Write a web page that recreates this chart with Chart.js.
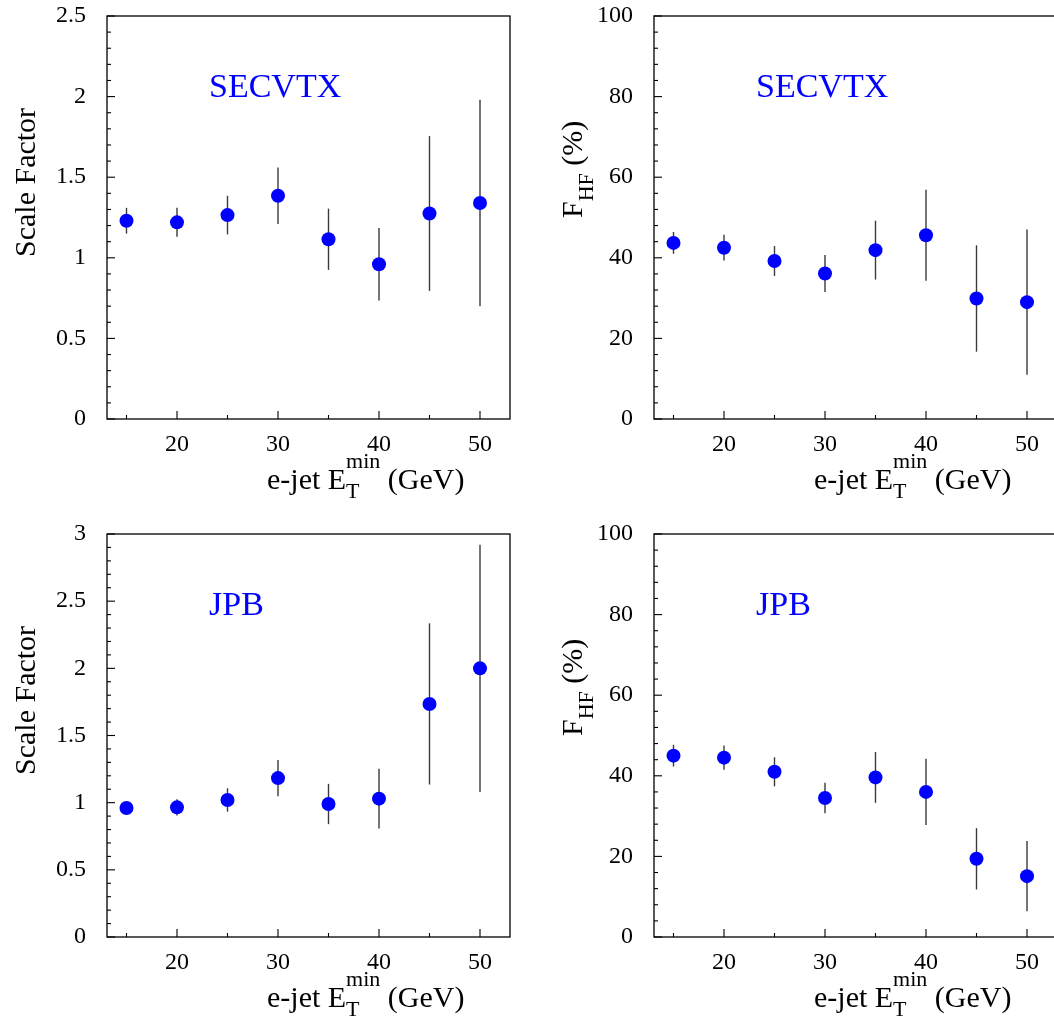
<!DOCTYPE html>
<html>
<head>
<meta charset="utf-8">
<script src="https://cdn.jsdelivr.net/npm/chart.js@4.4.1/dist/chart.umd.min.js"></script>
<style>
  body { margin: 0; width: 1054px; height: 1024px; overflow: hidden; background: #fff; position: relative; }
  canvas { position: absolute; }
</style>
</head>
<body>
<canvas id="sfSecvtx" width="540" height="512" style="left:0px;top:0px"></canvas>
<canvas id="fhfSecvtx" width="540" height="512" style="left:547px;top:0px"></canvas>
<canvas id="sfJpb" width="540" height="512" style="left:0px;top:518px"></canvas>
<canvas id="fhfJpb" width="540" height="512" style="left:547px;top:518px"></canvas>
<script>
// minimum e-jet Et cut (GeV)
const etCut = [15, 20, 25, 30, 35, 40, 45, 50];

// scale factors and heavy flavour fractions, SECVTX tagger
const sfSecvtx = [1.23, 1.22, 1.265, 1.385, 1.115, 0.96, 1.275, 1.34];
const sfSecvtxErr = [0.08, 0.09, 0.12, 0.175, 0.19, 0.225, 0.48, 0.64];
const fhfSecvtx = [43.7, 42.5, 39.2, 36.1, 41.9, 45.6, 29.9, 29.0];
const fhfSecvtxErr = [2.7, 3.2, 3.7, 4.6, 7.3, 11.3, 13.2, 18.0];

// same for JPB tagger
const sfJpb = [0.96, 0.965, 1.02, 1.183, 0.99, 1.03, 1.735, 2.0];
const sfJpbErr = [0.04, 0.06, 0.087, 0.135, 0.15, 0.223, 0.6, 0.92];
const fhfJpb = [45.0, 44.5, 41.0, 34.5, 39.6, 36.0, 19.4, 15.1];
const fhfJpbErr = [2.7, 3.0, 3.6, 3.8, 6.3, 8.2, 7.6, 8.7];

// tick labels
const xTicks = [20, 30, 40, 50];
const sfSecvtxTicks = [0, 0.5, 1, 1.5, 2, 2.5];
const sfJpbTicks = [0, 0.5, 1, 1.5, 2, 2.5, 3];
const fhfTicks = [0, 20, 40, 60, 80, 100];

const serif = '"Liberation Serif", "Times New Roman", serif';

// draws a row of text pieces, sub/superscripts shifted by dy
function drawRun(ctx, pieces) {
    let x = 0;
    let hold = 0;
    pieces.forEach(p => {
        ctx.font = p.size + 'px ' + serif;
        ctx.fillText(p.text, x, p.dy || 0);
        const w = ctx.measureText(p.text).width;
        if (p.stack) {
            hold = Math.max(hold, w);
        } else {
            x += Math.max(w, hold);
            hold = 0;
        }
    });
}

function drawTicks(ctx, scale, area, step, majorEvery, horizontal) {
    let k = Math.ceil(scale.min / step - 1e-9);
    for (; k * step <= scale.max + 1e-9; k++) {
        const len = (k % majorEvery === 0) ? 8 : 4;
        const p = scale.getPixelForValue(k * step);
        ctx.beginPath();
        if (horizontal) {
            ctx.moveTo(p, area.bottom);
            ctx.lineTo(p, area.bottom - len);
        } else {
            ctx.moveTo(area.left, p);
            ctx.lineTo(area.left + len, p);
        }
        ctx.stroke();
    }
}

const framePlugin = {
    id: 'frame',
    beforeDatasetsDraw(chart, args, opts) {
        const {ctx, chartArea: a, scales: {x, y}} = chart;
        ctx.save();
        ctx.strokeStyle = '#000';
        ctx.lineWidth = 1.3;
        ctx.strokeRect(a.left, a.top, a.right - a.left, a.bottom - a.top);
        ctx.lineWidth = 1.1;
        drawTicks(ctx, x, a, 5, 2, true);
        drawTicks(ctx, y, a, opts.minorStep, 5, false);

        // error bars, under the markers
        ctx.strokeStyle = '#3a3a3a';
        ctx.lineWidth = 1.4;
        chart.data.datasets[0].data.forEach((pt, i) => {
            const px = x.getPixelForValue(pt.x);
            ctx.beginPath();
            ctx.moveTo(px, y.getPixelForValue(pt.y - opts.err[i]));
            ctx.lineTo(px, y.getPixelForValue(pt.y + opts.err[i]));
            ctx.stroke();
        });
        ctx.restore();
    },
    afterDraw(chart, args, opts) {
        const {ctx, chartArea: a} = chart;
        ctx.save();
        ctx.textBaseline = 'alphabetic';
        ctx.textAlign = 'left';

        // tagger name
        ctx.fillStyle = '#0000ff';
        ctx.font = '34px ' + serif;
        ctx.fillText(opts.tag, a.left + 102, a.top + 81);

        ctx.fillStyle = '#000';
        ctx.save();
        ctx.translate(a.left + 160, a.bottom + 70);
        drawRun(ctx, [
            {text: 'e-jet E', size: 30},
            {text: 'T', size: 22, dy: 9, stack: true},
            {text: 'min', size: 22, dy: -21},
            {text: ' (GeV)', size: 30}
        ]);
        ctx.restore();

        ctx.save();
        ctx.translate(a.left - 72, a.top + opts.yTitleStart);
        ctx.rotate(-Math.PI / 2);
        drawRun(ctx, opts.yTitle);
        ctx.restore();
        ctx.restore();
    }
};

function initChart(id, values, errors, yTicks, yMax, minorStep, tag, yTitle, yTitleStart) {
    const ctx = document.getElementById(id).getContext('2d');
    return new Chart(ctx, {
        type: 'scatter',
        data: {
            datasets: [{
                data: etCut.map((e, i) => ({x: e, y: values[i]})),
                backgroundColor: '#0000ff',
                borderWidth: 0,
                pointRadius: 7,
                pointHoverRadius: 7
            }]
        },
        options: {
            responsive: false,
            animation: false,
            devicePixelRatio: 1,
            layout: {padding: {left: 0, top: 16, right: 30, bottom: 0}},
            scales: {
                x: {
                    type: 'linear',
                    min: 13.07,
                    max: 52.97,
                    afterBuildTicks: s => { s.ticks = xTicks.map(v => ({value: v})); },
                    afterFit: s => {
                        s.height = 93;
                        s.paddingLeft = 0;
                        s.paddingRight = 0;
                    },
                    grid: {display: false, drawTicks: false},
                    border: {display: false},
                    ticks: {
                        padding: 11,
                        color: '#000',
                        font: {family: serif, size: 24},
                        callback: v => String(v)
                    }
                },
                y: {
                    type: 'linear',
                    min: 0,
                    max: yMax,
                    afterBuildTicks: s => { s.ticks = yTicks.map(v => ({value: v})); },
                    afterFit: s => {
                        s.width = 107;
                        s.paddingTop = 0;
                        s.paddingBottom = 0;
                    },
                    grid: {display: false, drawTicks: false},
                    border: {display: false},
                    ticks: {
                        padding: 21,
                        color: '#000',
                        font: {family: serif, size: 24},
                        callback: v => String(v)
                    }
                }
            },
            plugins: {
                legend: {display: false},
                tooltip: {enabled: false},
                frame: {err: errors, minorStep: minorStep, tag: tag, yTitle: yTitle, yTitleStart: yTitleStart}
            }
        },
        plugins: [framePlugin]
    });
}

const sfTitle = [{text: 'Scale Factor', size: 30}];
const fhfTitle = [
    {text: 'F', size: 30},
    {text: 'HF', size: 22, dy: 11},
    {text: ' (%)', size: 30}
];

initChart('sfSecvtx', sfSecvtx, sfSecvtxErr, sfSecvtxTicks, 2.5, 0.1, 'SECVTX', sfTitle, 241);
initChart('fhfSecvtx', fhfSecvtx, fhfSecvtxErr, fhfTicks, 100, 4, 'SECVTX', fhfTitle, 202);
initChart('sfJpb', sfJpb, sfJpbErr, sfJpbTicks, 3, 0.1, 'JPB', sfTitle, 241);
initChart('fhfJpb', fhfJpb, fhfJpbErr, fhfTicks, 100, 4, 'JPB', fhfTitle, 202);
</script>
</body>
</html>
